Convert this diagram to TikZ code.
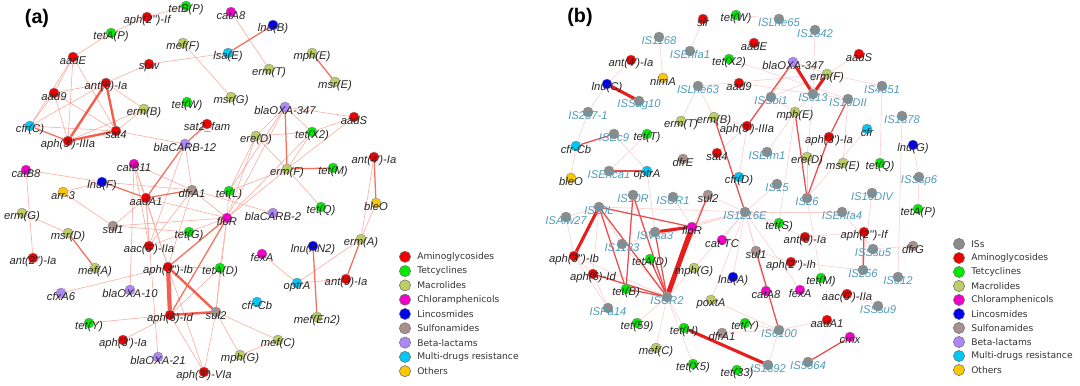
\documentclass[tikz,border=0pt]{standalone}
\usepackage{fontspec}
\setmainfont{Liberation Sans}
\newfontfamily\legfont{DejaVu Sans}
\usetikzlibrary{backgrounds}

\definecolor{camg}{RGB}{240,0,0}
\definecolor{ctet}{RGB}{0,235,0}
\definecolor{cmac}{RGB}{190,205,100}
\definecolor{cchl}{RGB}{240,0,200}
\definecolor{clin}{RGB}{0,0,240}
\definecolor{csul}{RGB}{168,145,140}
\definecolor{cbet}{RGB}{175,135,250}
\definecolor{cmdr}{RGB}{0,200,245}
\definecolor{coth}{RGB}{250,200,0}
\definecolor{cis}{RGB}{140,140,140}
\definecolor{islabcol}{RGB}{80,155,185}
\definecolor{edgea}{RGB}{245,110,90}
\definecolor{edgeb}{RGB}{230,30,30}

\newcommand{\pq}{\textquotesingle}
% gene node: name, x, y, colour, label
\newcommand{\gn}[5]{\node[gene, fill=#4, label={[glab]center:#5}] (#1) at (#2,#3) {};}
% insertion sequence node
\newcommand{\isn}[4]{\node[gene, fill=cis, label={[islab]center:#4}] (#1) at (#2,#3) {};}

\begin{document}
\begin{tikzpicture}[x=0.025cm, y=-0.025cm,
  gene/.style={circle, draw=black!45, line width=0.3pt, minimum size=0.25cm, inner sep=0pt},
  glab/.style={font=\fontsize{8}{9}\selectfont\itshape, text=black!85, inner sep=0pt, yshift=-2.5pt},
  islab/.style={glab, text=islabcol},
  lk/.style={draw=edgea!60, line width=0.4pt},
  lkm/.style={draw=edgea, line width=0.9pt},
  lkt/.style={draw=edgea!85!red, line width=1.7pt},
  lkx/.style={draw=edgea!85!red, line width=3pt},
  fk/.style={draw=edgeb!22, line width=0.4pt},
  rk/.style={draw=edgeb!80, line width=0.9pt},
  rkt/.style={draw=edgeb, line width=2.2pt},
  legdot/.style={circle, draw=black!55, line width=0.4pt, minimum size=0.28cm, inner sep=0pt},
  legtxt/.style={font=\legfont\fontsize{6.5}{7}\selectfont, text=black!80, anchor=west, inner sep=0pt},
  panel/.style={font=\bfseries\fontsize{14}{16}\selectfont},
]
\useasboundingbox (0,0) rectangle (1080,386);

% === PANEL (a) ===
\node[panel] (pa) at (37,18) {(a)};

\gn{tetBP}{186}{6}{ctet}{tetB(P)}
\gn{aphIIf}{147}{17}{camg}{aph(2\pq\pq)-If}
\gn{catAE}{231}{12}{cchl}{catA8}
\gn{lnuB}{273}{25}{clin}{lnu(B)}
\gn{tetAP}{111}{33}{ctet}{tetA(P)}
\gn{mefF}{183}{43}{cmac}{mef(F)}
\gn{lsaE}{228}{53}{cmdr}{lsa(E)}
\gn{mphE}{312}{53}{cmac}{mph(E)}
\gn{aadE}{73}{57}{camg}{aadE}
\gn{spw}{149}{64}{camg}{spw}
\gn{ermT}{269}{69}{cmac}{erm(T)}
\gn{msrE}{335}{82}{cmac}{msr(E)}
\gn{ant6}{106}{83}{camg}{ant(6)-Ia}
\gn{aad9}{54}{93}{camg}{aad9}
\gn{msrG}{231}{97}{cmac}{msr(G)}
\gn{tetW}{187}{102}{ctet}{tet(W)}
\gn{blaOXAa}{285}{107}{cbet}{blaOXA-347}
\gn{ermB}{144}{109}{cmac}{erm(B)}
\gn{aadS}{354}{117}{camg}{aadS}
\gn{sat2}{207}{124}{camg}{sat2\_fam}
\gn{cfrC}{30}{126}{cmdr}{cfr(C)}
\gn{sat4}{116}{131}{camg}{sat4}
\gn{tetX2}{312}{132}{ctet}{tet(X2)}
\gn{ereD}{256}{136}{cmac}{ere(D)}
\gn{aphIIIa}{68}{141}{camg}{aph(3\pq)-IIIa}
\gn{blaCARBa}{185}{144}{cbet}{blaCARB-12}
\gn{ant4}{374}{157}{camg}{ant(4\pq)-Ia}
\gn{catB11}{134}{164}{cchl}{catB11}
\gn{ermF}{287}{169}{cmac}{erm(F)}
\gn{tetM}{333}{168}{ctet}{tet(M)}
\gn{catB8}{26}{170}{cchl}{catB8}
\gn{lnuF}{102}{182}{clin}{lnu(F)}
\gn{arr3}{63}{192}{coth}{arr-3}
\gn{dfrA1}{192}{190}{csul}{dfrA1}
\gn{tetL}{229}{191}{ctet}{tet(L)}
\gn{aadA1}{146}{198}{camg}{aadA1}
\gn{bleO}{376}{203}{coth}{bleO}
\gn{tetQ}{321}{207}{ctet}{tet(Q)}
\gn{ermG}{22}{213}{cmac}{erm(G)}
\gn{blaCARBb}{273}{213}{cbet}{blaCARB-2}
\gn{floR}{227}{218}{cchl}{floR}
\gn{sul1}{113}{226}{csul}{sul1}
\gn{tetG}{189}{232}{ctet}{tet(G)}
\gn{msrD}{68}{233}{cmac}{msr(D)}
\gn{ermA}{361}{239}{cmac}{erm(A)}
\gn{aac6}{149}{246}{camg}{aac(6\pq)-IIa}
\gn{lnuAN2}{313}{246}{clin}{lnu(AN2)}
\gn{fexA}{262}{254}{cchl}{fexA}
\gn{ant2}{33}{258}{camg}{ant(2\pq\pq)-Ia}
\gn{mefA}{95}{268}{cmac}{mef(A)}
\gn{aphIb}{168}{267}{camg}{aph(3\pq\pq)-Ib}
\gn{tetAD}{220}{268}{ctet}{tetA(D)}
\gn{ant9}{346}{279}{camg}{ant(9)-Ia}
\gn{optrA}{297}{283}{cmdr}{optrA}
\gn{blaOXAb}{130}{290}{cbet}{blaOXA-10}
\gn{cfxA6}{61}{293}{cbet}{cfxA6}
\gn{cfrCb}{257}{302}{cmdr}{cfr-Cb}
\gn{sul2}{216}{312}{csul}{sul2}
\gn{aphId}{170}{315}{camg}{aph(6)-Id}
\gn{mefEn2}{317}{317}{cmac}{mef(En2)}
\gn{tetY}{89}{323}{ctet}{tet(Y)}
\gn{aphIa}{123}{340}{camg}{aph(3\pq)-Ia}
\gn{mefC}{278}{340}{cmac}{mef(C)}
\gn{mphG}{240}{355}{cmac}{mph(G)}
\gn{blaOXAc}{158}{357}{cbet}{blaOXA-21}
\gn{aphVIa}{204}{372}{camg}{aph(3\pq)-VIa}

\begin{scope}[on background layer]
\foreach \a/\b in {aphIIf/tetBP, aphIIf/tetAP, tetAP/aadE, aadE/aad9, aadE/cfrC,
  aadE/aphIIIa, aadE/sat4, aad9/ant6, aad9/cfrC, aad9/aphIIIa, aad9/sat4, ant6/cfrC,
  ant6/spw, ant6/ermB, cfrC/sat4, ermB/aphIIIa, ermB/sat4, spw/lsaE, mefF/msrG,
  catAE/ermT, blaOXAa/aadS, blaOXAa/ereD, blaOXAa/tetX2, blaOXAa/tetL, blaOXAa/floR,
  ereD/tetX2, ereD/ermF, ereD/floR, ereD/tetL, tetX2/aadS, tetX2/ermF, tetX2/floR,
  aadS/ermF, ermF/tetL, ermF/floR, ermF/tetQ, ant4/ermA, bleO/ermA, optrA/ant9,
  optrA/fexA, ermA/optrA, blaCARBa/dfrA1, blaCARBa/aac6, blaCARBa/sat4,
  catB11/aadA1, catB11/aac6, catB11/dfrA1, catB11/aphIb, lnuF/dfrA1, lnuF/catB8,
  lnuF/arr3, catB8/ant2, aadA1/sul1, aadA1/aac6, aadA1/aphIb, aadA1/floR,
  aadA1/blaOXAc, dfrA1/floR, dfrA1/blaCARBb, dfrA1/aac6, dfrA1/aphIb, arr3/sul1,
  sul1/floR, sul1/tetG, tetL/floR, floR/tetAD, floR/sul2, floR/aac6, aphIb/tetAD,
  tetAD/sul2, tetAD/aphId, aphIb/aphVIa, aphId/aphVIa, sul2/aphVIa, aphId/tetY,
  aphIb/cfxA6, aphId/aphIa, sul2/mefC, sul2/mphG, mphG/mefC, ermG/msrD,
  blaOXAb/catB11}
  \draw[lk] (\a) -- (\b);
\foreach \a/\b in {lsaE/lnuB, mphE/msrE, blaOXAa/ermF, ermF/tetM, ant4/bleO,
  ermA/ant9, lnuAN2/mefEn2, sat2/blaCARBa, blaCARBa/aadA1, lnuF/aadA1, aadA1/dfrA1,
  msrD/mefA, cfrC/aphIIIa, floR/aphIb, floR/aphId}
  \draw[lkm] (\a) -- (\b);
\foreach \a/\b in {ant6/aphIIIa, ant6/sat4, aphIIIa/sat4, aphIb/sul2, aphId/sul2}
  \draw[lkt] (\a) -- (\b);
\draw[lkx] (aphIb) -- (aphId);
\end{scope}

% legend (a)
\foreach \c/\t [count=\i] in {camg/Aminoglycosides, ctet/Tetcyclines, cmac/Macrolides,
  cchl/Chloramphenicols, clin/Lincosmides, csul/Sulfonamides, cbet/Beta-lactams,
  cmdr/Multi-drugs resistance, coth/Others}{
  \node[legdot, fill=\c] (la\i) at (405,{242.5+14.3*\i}) {};
  \node[legtxt] (lta\i) at (417,{242.5+14.3*\i}) {\t};
}

% === PANEL (b) ===
\node[panel] (pb) at (580,17) {(b)};

\gn{bsir}{703}{19}{camg}{sir}
\gn{btetW}{736}{15}{ctet}{tet(W)}
\isn{bISLhe65}{779}{19}{ISLhe65}
\isn{bIS1542}{815}{30}{IS1542}
\isn{bIS1168}{659}{37}{IS1168}
\gn{baadE}{754}{43}{camg}{aadE}
\isn{bISEnfa1}{690}{51}{ISEnfa1}
\gn{baadS}{859}{54}{camg}{aadS}
\gn{btetX2}{729}{59}{ctet}{tet(X2)}
\gn{bant4}{631}{60}{camg}{ant(4\pq)-Ia}
\gn{bblaOXA}{793}{62}{cbet}{blaOXA-347}
\gn{bermF}{827}{74}{cmac}{erm(F)}
\gn{bnimA}{663}{78}{coth}{nimA}
\gn{baad9}{739}{83}{camg}{aad9}
\gn{blnuC}{607}{84}{clin}{lnu(C)}
\isn{bISLhe63}{698}{86}{ISLhe63}
\isn{bIS4351}{882}{86}{IS4351}
\isn{bIS613}{813}{94}{IS613}
\isn{bISSbi1}{771}{97}{ISSbi1}
\isn{bIS16DII}{848}{99}{IS16DII}
\isn{bISSag10}{639}{101}{ISSag10}
\isn{bIS257}{588}{112}{IS257-1}
\gn{bmphE}{795}{112}{cmac}{mph(E)}
\isn{bIS1378}{902}{116}{IS1378}
\gn{bermB}{714}{117}{cmac}{erm(B)}
\gn{bermT}{681}{121}{cmac}{erm(T)}
\gn{baphIIIa}{747}{126}{camg}{aph(3\pq)-IIIa}
\gn{bcfr}{867}{129}{cmdr}{cfr}
\isn{bISEc9}{614}{134}{ISEc9}
\gn{btetT}{647}{134}{ctet}{tet(T)}
\gn{baphIa}{829}{137}{camg}{aph(3\pq)-Ia}
\gn{blnuG}{913}{145}{clin}{lnu(G)}
\gn{bcfrCb}{576}{146}{cmdr}{cfr-Cb}
\gn{bsat4}{717}{153}{camg}{sat4}
\isn{bISEfm1}{767}{152}{ISEfm1}
\gn{bereD}{807}{157}{cmac}{ere(D)}
\gn{bdfrE}{683}{159}{csul}{dfrE}
\gn{bmsrE}{843}{163}{cmac}{msr(E)}
\gn{btetQ}{880}{163}{ctet}{tet(Q)}
\isn{bISEnca1}{609}{171}{ISEnca1}
\gn{boptrA}{647}{171}{cmdr}{optrA}
\isn{bISSsp6}{919}{177}{ISSsp6}
\gn{bcfrD}{739}{177}{cmdr}{cfr(D)}
\gn{bbleO}{571}{178}{coth}{bleO}
\isn{bIS15}{777}{184}{IS15}
\isn{bIS16DIV}{872}{193}{IS16DIV}
\isn{bIS10R}{633}{195}{IS10R}
\isn{bISCR1}{673}{197}{ISCR1}
\gn{bsul2}{708}{195}{csul}{sul2}
\isn{bIS26}{807}{198}{IS26}
\isn{bIS10L}{599}{207}{IS10L}
\gn{btetAP}{918}{209}{ctet}{tetA(P)}
\isn{bIS1216E}{745}{212}{IS1216E}
\isn{bISEnfa4}{842}{212}{ISEnfa4}
\isn{bISAlw27}{566}{217}{ISAlw27}
\gn{btetS}{779}{223}{ctet}{tet(S)}
\gn{bfloR}{692}{227}{cchl}{floR}
\gn{baphIIf}{864}{232}{camg}{aph(2\pq\pq)-If}
\isn{bISVsa3}{655}{232}{ISVsa3}
\gn{bant6}{805}{237}{camg}{ant(6)-Ia}
\gn{bcatTC}{722}{240}{cchl}{cat-TC}
\isn{bIS1133}{622}{244}{IS1133}
\gn{bdfrG}{913}{246}{csul}{dfrG}
\isn{bISSsu5}{873}{249}{ISSsu5}
\gn{bsul1}{756}{251}{csul}{sul1}
\gn{baphIb}{574}{256}{camg}{aph(3\pq\pq)-Ib}
\gn{btetAD}{650}{259}{ctet}{tetA(D)}
\gn{baphIIh}{791}{262}{camg}{aph(2\pq\pq)-Ih}
\gn{bmphG}{694}{268}{cmac}{mph(G)}
\isn{bIS256}{863}{270}{IS256}
\gn{baphId}{593}{274}{camg}{aph(6)-Id}
\gn{blnuA}{733}{277}{clin}{lnu(A)}
\gn{btetM}{821}{278}{ctet}{tet(M)}
\isn{bIS612}{898}{277}{IS612}
\gn{btetB}{626}{289}{ctet}{tet(B)}
\gn{bcatA8}{766}{291}{cchl}{catA8}
\gn{bfexA}{800}{290}{cchl}{fexA}
\gn{baac6}{847}{294}{camg}{aac(6\pq)-IIa}
\isn{bISCR2}{667}{297}{ISCR2}
\gn{bpoxtA}{711}{300}{cmac}{poxtA}
\isn{bISSsu9}{878}{306}{ISSsu9}
\isn{bISPa14}{608}{308}{ISPa14}
\gn{baadA1}{827}{320}{camg}{aadA1}
\gn{btet59}{637}{323}{ctet}{tet(59)}
\gn{btetY}{745}{323}{ctet}{tet(Y)}
\gn{btetH}{684}{328}{ctet}{tet(H)}
\isn{bIS6100}{779}{330}{IS6100}
\gn{bdfrA1}{722}{333}{csul}{dfrA1}
\gn{bcmx}{850}{337}{cchl}{cmx}
\gn{bmefC}{656}{348}{cmac}{mef(C)}
\isn{bIS5564}{808}{362}{IS5564}
\gn{btetX5}{693}{364}{ctet}{tet(X5)}
\isn{bIS1392}{768}{365}{IS1392}
\gn{btet33}{737}{370}{ctet}{tet(33)}

\begin{scope}[on background layer]
\foreach \a/\b in {bsir/bISEnfa1, bIS1168/bnimA, bant4/blnuC, blnuC/bIS257,
  bIS257/bcfrCb, bcfrCb/bbleO, bISEc9/boptrA, btetT/bISEnca1, boptrA/bISVsa3,
  bISLhe63/bermT, bISLhe63/bermB, btetW/bISLhe65, btetX2/bIS16DII, bIS1542/bIS613,
  bblaOXA/bermF, bblaOXA/bISSbi1, baadS/bermF, bermF/bIS4351, bermF/bISLhe63,
  bermF/bISSbi1, bIS613/bmphE, bIS613/bIS16DII, bIS613/bereD, bISSbi1/bmphE,
  baad9/bIS613, bmphE/bISEfm1, bmphE/btetS, baphIIIa/bsat4, baphIIIa/bcfrD,
  bermB/baphIIIa, bereD/bIS26, bmsrE/bIS16DII, bcfr/bIS26, bIS4351/btetQ,
  bIS1378/bIS612, blnuG/bISSsp6, bISSsp6/btetAP, bdfrG/bISSsu5, bant6/bIS1216E,
  btetS/bIS1216E, baphIIh/bIS256, baphIIh/bsul1, bsul1/bIS1216E, bIS1216E/bIS10L,
  bIS1216E/bfloR, bIS1216E/bISCR2, bIS1216E/blnuA, bIS1216E/bcatTC, bIS1216E/bsul2,
  bIS1216E/bISVsa3, bIS1216E/bIS1133, bIS1216E/bIS15, bIS1216E/bISEnfa4,
  baadA1/bIS6100, bIS1392/bIS6100, btet33/bIS1392, btetY/bIS6100, bdfrA1/bIS6100,
  bISCR2/bIS1133, bISCR2/baphIb, bISCR2/btetH, bISCR2/btetX5, bISCR2/bmefC,
  bISCR2/btet59, bfloR/bISCR1, bfloR/bsul2, bIS10L/baphId, bISAlw27/baphIb,
  baphIb/baphId, baphIb/bISPa14, baphId/bISPa14, bcatA8/bIS1216E, bfexA/bIS1216E,
  bpoxtA/bIS6100, bpoxtA/bIS1216E, bISAlw27/bIS10L, bIS10L/bIS1133, bISEnfa4/bISSsu5,
  btetM/bIS26, baphIIf/bant6, bIS16DIV/bIS256, baac6/bISSsu9}
  \draw[fk] (\a) -- (\b);
\foreach \a/\b in {bISEc9/bcfrCb, bISEnca1/boptrA, bblaOXA/baphIIIa, bmphE/bIS26,
  bermB/bIS1216E, baphIa/bIS16DII, baphIa/bIS26, baphIIf/bIS256, bsul1/bIS6100,
  bcmx/bIS5564, bISCR2/btetAD, bISCR2/bIS10R, bISCR2/bIS10L, bISCR2/btetB,
  bISCR2/baphId, bISCR2/bsul2, bfloR/bIS10L, bIS10L/btetB, bIS10R/btetB,
  bISCR2/bISVsa3}
  \draw[rk] (\a) -- (\b);
\foreach \a/\b in {blnuC/bISSag10, bblaOXA/bIS613, bermF/bIS613, bfloR/bISVsa3,
  bIS10L/baphIb, btetH/bIS1392}
  \draw[rkt] (\a) -- (\b);
\draw[rkt, line width=3.5pt] (bISCR2) -- (bfloR);
\end{scope}

% legend (b)
\foreach \c/\t [count=\i] in {cis/ISs, camg/Aminoglycosides, ctet/Tetcyclines,
  cmac/Macrolides, cchl/Chloramphenicols, clin/Lincosmides, csul/Sulfonamides,
  cbet/Beta-lactams, cmdr/Multi-drugs resistance, coth/Others}{
  \node[legdot, fill=\c] (lb\i) at (959,{230+14*\i}) {};
  \node[legtxt] (ltb\i) at (971,{230+14*\i}) {\t};
}
\end{tikzpicture}
\end{document}
